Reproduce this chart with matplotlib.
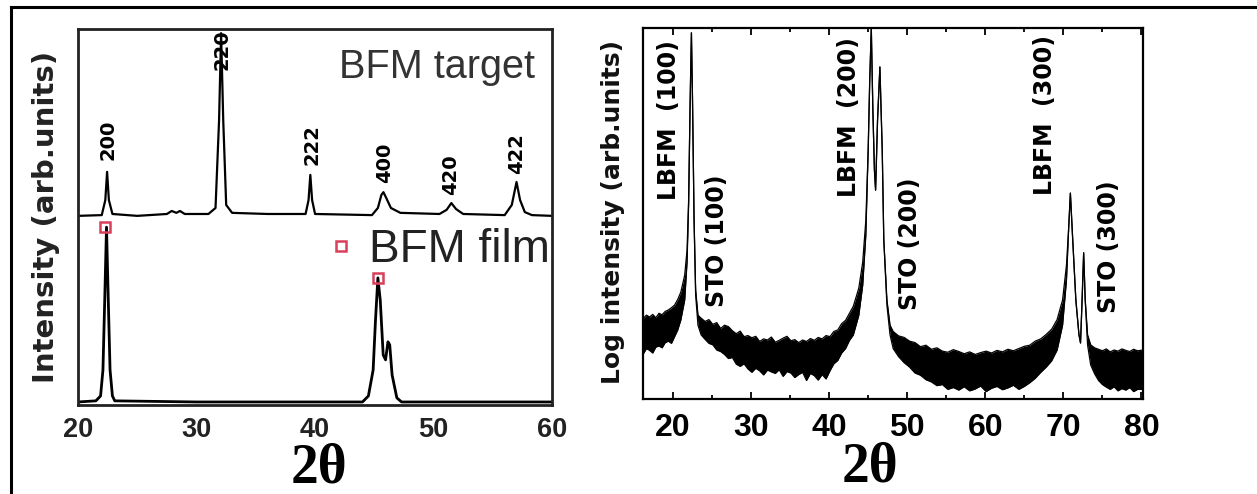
import matplotlib
matplotlib.use("Agg")
import matplotlib.pyplot as plt
from matplotlib.lines import Line2D
from matplotlib.ticker import MultipleLocator

# ---- left panel: BFM target / film (linear intensity, arb. units 0-100) ----
target_x = [20, 22.0, 22.3, 22.45, 22.6, 22.9, 25, 27.5, 27.9, 28.3, 28.6, 29, 31, 31.6, 31.9,
            32.07, 32.25, 32.5, 33, 36, 39.2, 39.45, 39.6, 39.75, 40.0, 44.8, 45.3, 45.6,
            45.77, 46.0, 46.4, 47.2, 50.5, 51.1, 51.5, 51.9, 52.5, 56, 56.6, 57.0, 57.3,
            57.7, 58.3, 60]
target_y = [50.3, 50.5, 54.5, 62.0, 54.5, 50.8, 50.3, 50.8, 51.6, 51.1, 51.6, 50.8, 50.8, 52.4,
            75.8, 98.9, 75.8, 53.2, 51.1, 50.8, 50.8, 54.5, 61.2, 54.5, 50.8, 50.5, 52.4, 55.9,
            56.6, 55.1, 52.4, 51.1, 50.8, 51.9, 53.7, 52.1, 50.8, 50.5, 53.2, 59.3, 54.5,
            51.3, 50.5, 50.3]

film_x = [20, 21.5, 21.9, 22.1, 22.25, 22.4, 22.55, 22.7, 22.9, 23.1, 30, 44.0, 44.5, 44.9,
          45.1, 45.3, 45.5, 45.75, 45.95, 46.15, 46.3, 46.5, 46.9, 47.3, 60]
film_y = [0.8, 1.1, 2.4, 9.3, 27.9, 47.3, 27.9, 9.3, 2.4, 1.1, 0.8, 0.8, 2.4, 9.3,
          22.6, 33.8, 27.9, 13.3, 12.0, 16.8, 16.0, 8.0, 1.9, 0.8, 0.8]

film_peak_x = [22.3, 45.3]
film_peak_y = [47.3, 33.8]

hkl_labels = ["200", "220", "222", "400", "420", "422"]
hkl_x = [22.53, 32.13, 39.72, 45.9, 51.4, 57.0]
hkl_y = [65.2, 89.1, 63.8, 59.0, 55.9, 61.4]

# ---- right panel: LBFM film on STO (log intensity, arb. units 0-100) ----
# noisy background is given as an upper / lower envelope
log_x = [16.2, 16.6, 17.0, 17.4, 17.8, 18.2, 18.6, 19.0, 19.4, 19.8, 20.2, 20.6, 21.0,
         21.5, 21.8, 22.0, 22.2, 22.36, 22.5, 22.7, 22.9, 23.2,
         23.6, 24.1, 24.6, 25.1, 25.6, 26.1, 26.6, 27.1, 27.6, 28.1, 28.6, 29.1, 29.6, 30.1,
         30.6, 31.1, 31.6, 32.1, 32.6, 33.1, 33.6, 34.1, 34.6, 35.1, 35.6, 36.1, 36.6, 37.1,
         37.6, 38.1, 38.6, 39.1, 39.6, 40.1, 40.6, 41.1, 41.6, 42.1, 42.6, 43.1,
         43.8, 44.3, 44.7, 45.0, 45.2, 45.4, 45.6, 45.8, 45.95, 46.2, 46.5, 46.8, 47.0, 47.4,
         47.8,
         48.2, 48.9, 49.6, 50.3, 51.0, 51.7, 52.4, 53.1, 53.8, 54.5, 55.2, 55.9, 56.6, 57.3,
         58.0, 58.7, 59.4, 60.1, 60.8, 61.5, 62.2, 62.9, 63.6, 64.3, 65.0, 65.7, 66.4, 67.1,
         67.8, 68.5, 69.2,
         69.9, 70.4, 70.7, 70.9, 71.2, 71.6, 72.0, 72.2, 72.4, 72.6, 72.8, 73.1,
         73.5, 74.0, 74.5, 75.0, 75.5, 76.0, 76.5, 77.0, 77.5, 78.0, 78.5, 79.0, 79.5, 80.2]
log_upper = [21.8, 22.6, 22.1, 22.8, 21.9, 23.1, 22.7, 23.6, 24.0, 24.6, 25.3, 26.8, 28.8,
             33.4, 40.2, 53.6, 80.6, 98.7, 80.6, 48.2, 29.4, 22.6,
             21.8, 20.9, 21.4, 20.1, 20.6, 19.0, 19.9, 19.5, 18.4, 17.6, 18.3, 16.8, 17.1, 16.5,
             16.9, 15.5, 16.2, 15.9, 16.7, 15.3, 15.8, 16.4, 16.9, 15.7, 16.0, 15.2, 15.9, 15.5,
             16.3, 15.8, 16.6, 16.2, 17.1, 16.8, 18.2, 18.6, 20.3, 21.2, 23.1, 25.0,
             29.9, 36.9, 48.2, 67.1, 86.0, 100.0, 77.9, 61.7, 56.3, 75.2, 89.5, 67.1, 42.9, 26.7,
             19.9,
             18.2, 17.0, 16.6, 15.6, 15.2, 14.1, 14.5, 13.4, 13.8, 12.9, 12.6, 13.3, 12.8, 12.2,
             12.7, 12.0, 12.5, 12.9, 12.4, 13.1, 12.7, 13.4, 13.0, 13.6, 14.2, 14.5, 15.6, 16.2,
             17.4, 18.8, 21.4,
             26.7, 36.1, 46.9, 55.5, 42.9, 26.7, 17.3, 15.1, 26.7, 39.4, 26.7, 17.3,
             14.6, 13.8, 13.4, 13.0, 13.5, 12.7, 13.2, 12.9, 13.5, 13.1, 12.8, 13.4, 13.0, 13.2]
log_lower = [12.2, 13.6, 13.1, 12.4, 14.0, 14.3, 13.8, 15.2, 15.6, 15.0, 16.8, 18.6, 21.3,
             26.7, 36.9, 52.3, 80.6, 98.7, 80.6, 48.2, 28.0, 19.9,
             17.3, 16.1, 15.0, 14.6, 13.2, 12.8, 12.0, 10.9, 11.2, 9.4, 8.8, 9.5, 8.1, 7.2,
             8.3, 7.6, 6.5, 7.8, 7.3, 6.9, 7.9, 6.1, 7.4, 7.0, 5.8, 6.6, 7.2, 5.0,
             6.9, 6.3, 5.1, 6.6, 5.4, 7.6, 9.5, 10.4, 12.4, 13.6, 15.8, 17.3,
             22.6, 30.7, 44.2, 67.1, 86.0, 100.0, 77.9, 61.7, 56.3, 75.2, 89.5, 67.1, 42.9, 25.3,
             17.3,
             13.6, 11.4, 9.8, 8.6, 7.0, 6.4, 5.2, 4.6, 3.6, 3.9, 2.6, 3.1, 2.4, 3.3,
             2.2, 2.7, 3.5, 2.0, 2.9, 3.4, 2.5, 3.0, 3.7, 2.6, 3.4, 4.4, 5.6, 7.2,
             8.6, 10.3, 13.2,
             19.9, 32.1, 46.9, 55.5, 42.9, 26.7, 17.3, 15.1, 26.7, 39.4, 26.7, 14.6,
             9.2, 6.8, 5.0, 3.9, 3.2, 2.6, 3.3, 2.2, 2.8, 2.4, 3.1, 2.0, 2.6, 2.6]

peak_labels = ["LBFM  (100)", "STO (100)", "LBFM  (200)", "STO (200)", "LBFM  (300)", "STO (300)"]
peak_label_x = [19.45, 25.6, 42.5, 50.35, 67.65, 75.85]
peak_label_y = [53.6, 24.8, 54.4, 24.0, 55.0, 23.2]

BOLD = "DejaVu Sans"
TICKFONT = "Liberation Sans"

fig = plt.figure(figsize=(12.57, 4.94), dpi=100)

# ---------------- left ----------------
ax1 = fig.add_axes([0.0621, 0.1802, 0.3771, 0.7611])
ax1.plot(target_x, target_y, color="black", lw=1.6)
ax1.plot(film_x, film_y, color="black", lw=2.0)
ax1.plot(film_peak_x, film_peak_y, ls="none", marker="s", ms=7, mfc="none",
         mec="#d8405a", mew=1.8, label="BFM film")
for lab, x, y in zip(hkl_labels, hkl_x, hkl_y):
    ax1.text(x, y, lab, rotation=90, ha="center", va="bottom", fontsize=14,
             fontweight="bold", family=BOLD)
ax1.text(0.964, 0.87, "BFM target", transform=ax1.transAxes, ha="right", va="baseline",
         fontsize=28.5, color="#333333", family=TICKFONT)
ax1.legend(loc="center right", bbox_to_anchor=(0.995, 0.412), frameon=False,
           handlelength=0.5, handletextpad=0.35, borderpad=0, borderaxespad=0,
           prop={"family": TICKFONT, "size": 33}, labelcolor="#222222")
ax1.set_xlim(20, 60)
ax1.set_ylim(0, 100)
ax1.set_yticks([])
ax1.set_xticks([20, 30, 40, 50, 60])
ax1.tick_params(axis="x", length=0, pad=9)
for lbl in ax1.get_xticklabels():
    lbl.set_fontsize(19.5)
    lbl.set_fontweight("bold")
    lbl.set_family(TICKFONT)
    lbl.set_color("#222222")
for sp in ax1.spines.values():
    sp.set_linewidth(2.0)
    sp.set_color("#222222")
ax1.set_xlabel("2θ", fontsize=40, fontweight="bold", family="Liberation Serif")
ax1.xaxis.set_label_coords(0.508, -0.10)
fig.text(46 / 1257, 1 - 217 / 494, "Intensity (arb.units)", rotation=90, ha="center",
         va="center", fontsize=21, fontweight="bold", family=BOLD, color="#222222")

# ---------------- right ----------------
ax2 = fig.add_axes([0.5118, 0.1923, 0.3975, 0.751])
ax2.fill_between(log_x, log_lower, log_upper, color="black", lw=0)
ax2.plot(log_x, log_upper, color="black", lw=0.9)
ax2.plot(log_x, log_lower, color="black", lw=0.9)
for lab, x, y in zip(peak_labels, peak_label_x, peak_label_y):
    ax2.text(x, y, lab, rotation=90, ha="center", va="bottom", fontsize=17,
             fontweight="bold", family=BOLD)
ax2.set_xlim(16.2, 80.2)
ax2.set_ylim(0, 100)
ax2.set_yticks([])
ax2.xaxis.set_major_locator(MultipleLocator(10))
ax2.xaxis.set_minor_locator(MultipleLocator(5))
ax2.tick_params(axis="x", which="both", direction="in", top=True, width=1.3, pad=10)
ax2.tick_params(axis="x", which="major", length=5)
ax2.tick_params(axis="x", which="minor", length=3)
for lbl in ax2.get_xticklabels():
    lbl.set_fontsize(23)
    lbl.set_fontweight("bold")
    lbl.set_family(TICKFONT)
for sp in ax2.spines.values():
    sp.set_linewidth(1.6)
ax2.set_xlabel("2θ", fontsize=40, fontweight="bold", family="Liberation Serif")
ax2.xaxis.set_label_coords(0.454, -0.115)
fig.text(613 / 1257, 1 - 212 / 494, "Log intensity (arb.units)", rotation=90, ha="center",
         va="center", fontsize=18, fontweight="bold", family=BOLD, color="#111111")

# frame around the figure (top and left edges only)
fig.add_artist(Line2D([11 / 1257, 1.0], [1 - 7 / 494, 1 - 7 / 494], color="black", lw=2.2,
                      transform=fig.transFigure))
fig.add_artist(Line2D([11 / 1257, 11 / 1257], [0.0, 1 - 7 / 494], color="black", lw=2.2,
                      transform=fig.transFigure))

fig.savefig("out.png", dpi=100)
